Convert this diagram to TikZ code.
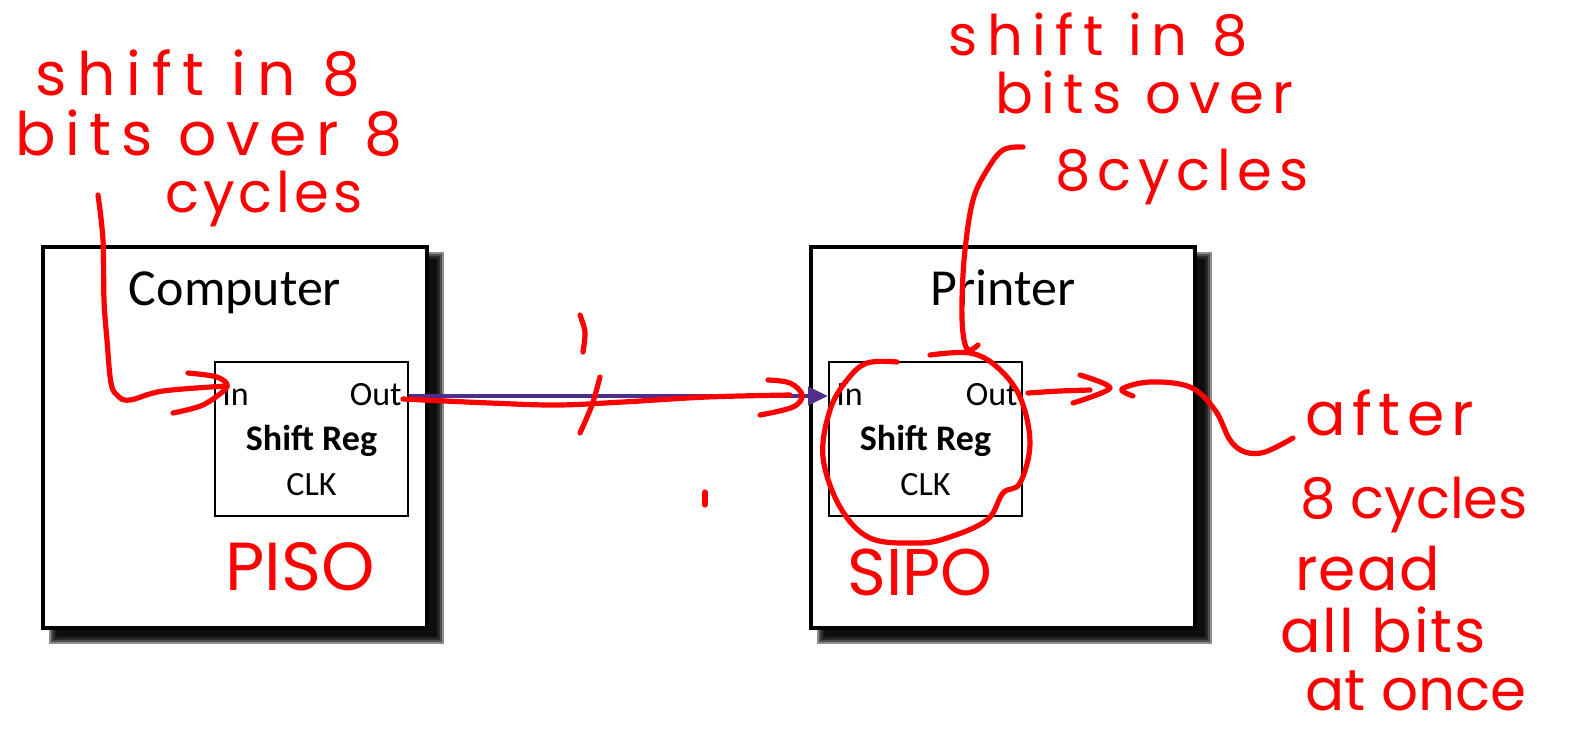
\documentclass[tikz,border=0pt]{standalone}
\usepackage{fontspec}
\setmainfont{Carlito}
\newfontfamily\hand{Poppins}
\usetikzlibrary{arrows.meta}

\definecolor{busblue}{RGB}{78,48,140}
\definecolor{ink}{RGB}{255,0,0}

% hand notes: size and letter spacing
\newcommand{\scribble}[2]{\hand\addfontfeature{LetterSpace=#2}\fontsize{#1}{#1}\selectfont}

\tikzset{
  unitbox/.style={draw, line width=2pt, fill=white, minimum width=192pt, minimum height=190.5pt, inner sep=0pt},
  regbox/.style={draw, line width=1pt, fill=white, minimum width=96.5pt, minimum height=77pt, inner sep=0pt},
  pin/.style={font=\fontsize{17}{17}\selectfont, inner sep=0pt},
  pen/.style={draw=ink, line width=2.6pt, line cap=round, line join=round},
  scrawl/.style={text=ink, anchor=base west, inner sep=0pt},
  bus/.style={draw=busblue, line width=2pt, -{Triangle[length=10pt, width=9pt]}},
}

\begin{document}
\begin{tikzpicture}[x=0.5pt, y=-0.5pt]
        \useasboundingbox (0, 0) rectangle (1585, 730);

        % Soft shadows under both units
        \foreach \bx in {43, 811} {
            \foreach \b in {0, ..., 4}
                \fill[black, opacity=0.45] (\bx+6+\b*2, 252+\b*2) rectangle (\bx+401-\b*2, 644-\b*2);
        }

        % Computer
        \node[unitbox] (comp) at (235, 437.5) {};
        \node[anchor=base, font=\fontsize{26}{26}\selectfont, inner sep=0pt] (comptitle) at (235, 305) {Computer};
        \node[regbox] (compreg) at (311.5, 439) {};
        \node[pin, anchor=base west] (cin) at (222, 405) {In};
        \node[pin, anchor=base east] (cout) at (402, 405) {Out};
        \node[pin, anchor=base, font=\bfseries\fontsize{18}{18}\selectfont] (cname) at (311.5, 450) {Shift Reg};
        \node[pin, anchor=base] (cclk) at (311.5, 495) {CLK};

        % Printer
        \node[unitbox] (prn) at (1003, 437.5) {};
        \node[anchor=base, font=\fontsize{26}{26}\selectfont, inner sep=0pt] (prntitle) at (1003, 305) {Printer};
        \node[regbox] (prnreg) at (925.5, 439) {};
        \node[pin, anchor=base west] (pin) at (836, 405) {In};
        \node[pin, anchor=base east] (pout) at (1018, 405) {Out};
        \node[pin, anchor=base, font=\bfseries\fontsize{18}{18}\selectfont] (pname) at (925.5, 450) {Shift Reg};
        \node[pin, anchor=base] (pclk) at (925.5, 495) {CLK};

        % Serial link
        \coordinate (tx) at (compreg.east |- 0, 396);
        \coordinate (rx) at (prnreg.west |- 0, 396);
        \draw[bus] (tx) -- (rx);

        % Notes on the left
        \node[scrawl, font=\scribble{30}{18}] (l1) at (35, 95) {shift in 8};
        \node[scrawl, font=\scribble{30}{16}] (l2) at (15, 155) {bits over 8};
        \node[scrawl, font=\scribble{28}{7}] (l3) at (165, 212) {cycles};
        \draw[pen] plot[smooth, tension=0.6] coordinates {(98, 195) (103, 240) (104, 300) (107, 340) (111, 383) (118, 396) (130, 400) (163, 391) (227, 386)};
        \draw[pen] plot[smooth, tension=0.5] coordinates {(188, 373) (217, 377) (227, 387) (203, 405) (173, 413)};
        \node[scrawl, font=\scribble{34}{0}] (piso) at (225, 590) {PISO};

        % Scribbles over the link
        \draw[pen] plot[smooth, tension=0.6] coordinates {(403, 399) (490, 403) (557, 405) (623, 402) (707, 397) (790, 395)};
        \draw[pen] plot[smooth, tension=0.6] coordinates {(768, 380) (790, 383) (802, 395) (793, 407) (760, 415)};
        \draw[pen] plot[smooth] coordinates {(600, 377) (592, 405) (580, 433)};
        \draw[pen] plot[smooth] coordinates {(580, 315) (585, 332) (583, 352)};
        \draw[pen] (705, 492) -- (705, 505);

        % Notes on the printer side
        \node[scrawl, font=\scribble{28}{17}] (r1) at (948, 55) {shift in 8};
        \node[scrawl, font=\scribble{28}{15}] (r2) at (995, 113) {bits over};
        \node[scrawl, font=\scribble{28}{12}] (r3) at (1055, 190) {8cycles};
        \draw[pen] plot[smooth, tension=0.6] coordinates {(1023, 147) (1003, 150) (987, 170) (973, 200) (965, 250) (962, 300) (963, 333) (968, 350) (978, 345)};
        \draw[pen] plot[smooth, tension=0.6] coordinates {(897, 362) (867, 363) (847, 380) (830, 410) (823, 457) (840, 507) (870, 538) (917, 543) (947, 538) (987, 520) (1003, 493) (1020, 483) (1030, 443) (1020, 397) (997, 367) (970, 353) (930, 355)};
        \node[scrawl, font=\scribble{33}{0}] (sipo) at (847, 595) {SIPO};
        \draw[pen] plot[smooth] coordinates {(1028, 393) (1060, 391) (1090, 390)};
        \draw[pen] plot[smooth, tension=0.5] coordinates {(1080, 375) (1110, 388) (1073, 403)};
        \draw[pen] plot[smooth, tension=0.6] coordinates {(1133, 396) (1122, 389) (1150, 382) (1190, 387) (1215, 410) (1230, 440) (1245, 452) (1265, 452) (1293, 438)};
        \node[scrawl, font=\scribble{30}{11}] (a1) at (1305, 435) {after};
        \node[scrawl, font=\scribble{28}{0}] (a2) at (1300, 518) {8 cycles};
        \node[scrawl, font=\scribble{30}{2}] (a3) at (1295, 590) {read};
        \node[scrawl, font=\scribble{30}{3}] (a4) at (1280, 652) {all bits};
        \node[scrawl, font=\scribble{29}{0}] (a5) at (1305, 710) {at once};
    \end{tikzpicture}
\end{document}
